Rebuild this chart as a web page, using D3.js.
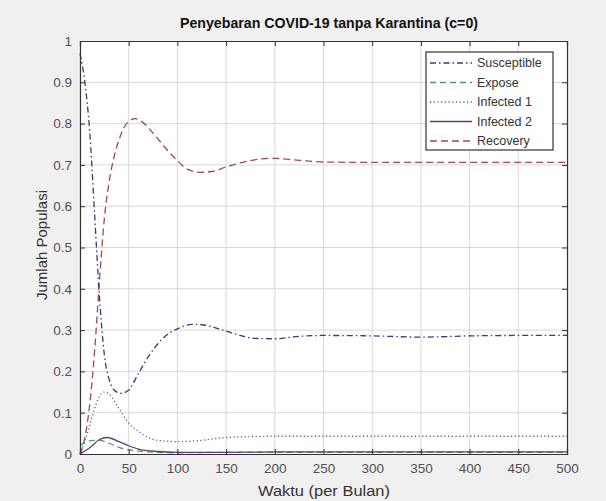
<!DOCTYPE html>
<html><head><meta charset="utf-8">
<script src="https://cdn.jsdelivr.net/npm/d3@7"></script>
<style>
html,body{margin:0;padding:0;background:#f0f0f0;}
text{font-family:"Liberation Sans",Arial,sans-serif;}
</style></head>
<body><svg id="c" width="606" height="501"></svg>
<script>
const title = "Penyebaran COVID-19 tanpa Karantina (c=0)";
const xLabel = "Waktu (per Bulan)";
const yLabel = "Jumlah Populasi";
const xTicks = [0,50,100,150,200,250,300,350,400,450,500];
const yTicks = [0,0.1,0.2,0.3,0.4,0.5,0.6,0.7,0.8,0.9,1];
const seriesNames = ["Susceptible","Expose","Infected 1","Infected 2","Recovery"];

const tS = [0,5,10,15,20,25,30,35,42,50,60,70,80,90,100,115,125,140,160,180,200,225,250,300,350,400,450,500];
const susceptible = [0.97,0.9,0.78,0.58,0.38,0.24,0.18,0.155,0.147,0.155,0.195,0.235,0.267,0.29,0.303,0.314,0.313,0.305,0.29,0.28,0.279,0.285,0.287,0.286,0.283,0.286,0.287,0.287];

const tE = [0,5,10,20,30,40,50,60,80,100,150,200,300,400,500];
const expose = [0.02,0.028,0.032,0.033,0.026,0.016,0.01,0.007,0.004,0.003,0.004,0.004,0.004,0.004,0.004];

const tI1 = [0,5,10,15,20,25,30,40,50,60,70,80,100,120,150,200,250,300,400,500];
const infected1 = [0.0,0.03,0.07,0.11,0.14,0.15,0.145,0.11,0.075,0.055,0.04,0.033,0.03,0.032,0.04,0.043,0.043,0.043,0.043,0.043];

const tI2 = [0,10,20,28,40,50,60,80,100,150,200,300,400,500];
const infected2 = [0.0,0.015,0.035,0.04,0.03,0.02,0.012,0.006,0.004,0.004,0.005,0.005,0.005,0.005];

const tR = [0,5,10,15,20,25,30,35,40,45,50,57,65,75,90,100,110,123,135,150,170,198,225,250,300,400,500];
const recovery = [0,0.04,0.12,0.25,0.42,0.57,0.66,0.72,0.76,0.79,0.805,0.812,0.802,0.777,0.735,0.71,0.69,0.682,0.684,0.695,0.708,0.716,0.711,0.707,0.706,0.706,0.706];

const colors = ["#3a3a78","#4a9a5a","#4a64a8","#6a3a7a","#9a4a5a"];
const dashes = ["6,3,1.5,3","6,4","1.2,2.5",null,"7,4"];

const svg = d3.select("#c");
const L=80, R=567, T=41, B=454;
const x = d3.scaleLinear().domain([0,500]).range([L,R]);
const y = d3.scaleLinear().domain([0,1]).range([B,T]);

svg.append("rect").attr("x",L).attr("y",T).attr("width",R-L).attr("height",B-T).attr("fill","#fff");

// grid
svg.append("g").selectAll("line").data(xTicks.slice(1,-1)).join("line")
  .attr("x1",d=>x(d)).attr("x2",d=>x(d)).attr("y1",T).attr("y2",B)
  .attr("stroke","#d8d8d8").attr("stroke-width",1);
svg.append("g").selectAll("line").data(yTicks.slice(1,-1)).join("line")
  .attr("y1",d=>y(d)).attr("y2",d=>y(d)).attr("x1",L).attr("x2",R)
  .attr("stroke","#d8d8d8").attr("stroke-width",1);

// lines
const tArr=[tS,tE,tI1,tI2,tR], vArr=[susceptible,expose,infected1,infected2,recovery];
const line = d3.line().x(d=>x(d[0])).y(d=>y(d[1])).curve(d3.curveMonotoneX);
const plot = svg.append("g");
[4,0,2,1,3].forEach(i=>{
  const pts = tArr[i].map((t,k)=>[t,vArr[i][k]]);
  plot.append("path").attr("d",line(pts)).attr("fill","none")
    .attr("stroke",colors[i]).attr("stroke-width",1.3)
    .attr("stroke-dasharray",dashes[i]);
});

// axes
const xa = svg.append("g").attr("transform",`translate(0,${B})`)
  .call(d3.axisBottom(x).tickValues(xTicks).tickSize(-5).tickPadding(9).tickFormat(d3.format("d")));
const xat = svg.append("g").attr("transform",`translate(0,${T})`)
  .call(d3.axisTop(x).tickValues(xTicks).tickSize(-5).tickFormat(""));
const ya = svg.append("g").attr("transform",`translate(${L},0)`)
  .call(d3.axisLeft(y).tickValues(yTicks).tickSize(-5).tickPadding(8).tickFormat(d=>d===0?"0":d===1?"1":d3.format(".1f")(d)));
const yar = svg.append("g").attr("transform",`translate(${R},0)`)
  .call(d3.axisRight(y).tickValues(yTicks).tickSize(-5).tickFormat(""));
[xa,xat,ya,yar].forEach(g=>{
  g.select(".domain").attr("stroke","#333").attr("stroke-width",1.2);
  g.selectAll(".tick line").attr("stroke","#333");
  g.selectAll("text").attr("fill","#505050").style("font-size","13.5px");
});

// titles
svg.append("text").attr("x",329).attr("y",28).attr("text-anchor","middle")
  .attr("textLength",298).attr("lengthAdjust","spacingAndGlyphs")
  .style("font-size","14px").style("font-weight","bold").attr("fill","#111").text(title);
svg.append("text").attr("x",324).attr("y",496).attr("text-anchor","middle")
  .attr("textLength",132).attr("lengthAdjust","spacingAndGlyphs")
  .style("font-size","14px").attr("fill","#333").text(xLabel);
svg.append("text").attr("transform",`translate(47,${245}) rotate(-90)`).attr("text-anchor","middle")
  .attr("textLength",110).attr("lengthAdjust","spacingAndGlyphs")
  .style("font-size","14px").attr("fill","#333").text(yLabel);

// legend
const lg = svg.append("g");
lg.append("rect").attr("x",426).attr("y",52).attr("width",127).attr("height",98)
  .attr("fill","#fff").attr("stroke","#333").attr("stroke-width",1.2);
seriesNames.forEach((n,i)=>{
  const yy = 63 + i*19.5;
  lg.append("line").attr("x1",430).attr("x2",472).attr("y1",yy).attr("y2",yy)
    .attr("stroke",colors[i]).attr("stroke-width",1.3).attr("stroke-dasharray",dashes[i]);
  lg.append("text").attr("x",477).attr("y",yy+4).style("font-size","12.5px").attr("fill","#333").text(n);
});
</script></body></html>
